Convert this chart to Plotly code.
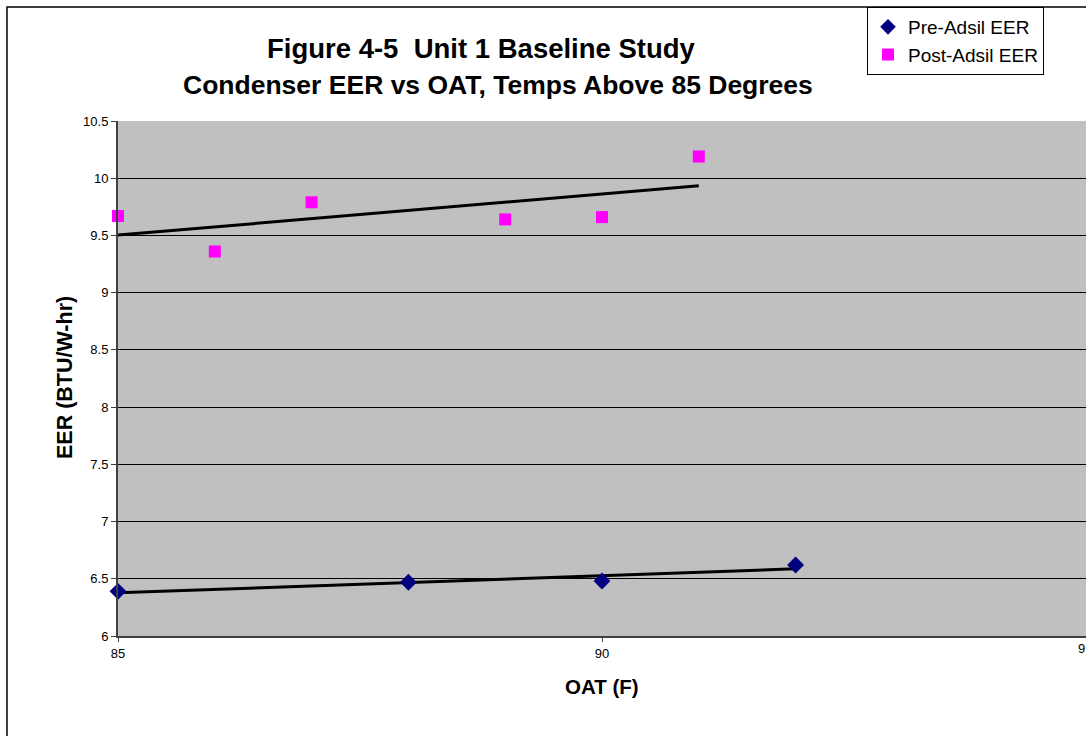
import numpy as np
import plotly.graph_objects as go

pre_x = [85, 88, 90, 92]
pre_y = [6.39, 6.47, 6.48, 6.62]
post_x = [85, 86, 87, 89, 90, 91]
post_y = [9.67, 9.36, 9.79, 9.64, 9.66, 10.19]
x_ticks = [85, 90, 95]

W, H = 1086, 736
L, R, T, B = 118, 0, 121, 100
pw, ph = W - L - R, H - T - B

def px2x(p):
    return (p - L) / pw

def py2y(p):
    return (H - B - p) / ph

def trend(xs, ys):
    k, b = np.polyfit(xs, ys, 1)
    xx = np.array([min(xs), max(xs)], dtype=float)
    return xx, k * xx + b

fig = go.Figure()
tx, ty = trend(pre_x, pre_y)
fig.add_trace(go.Scatter(x=tx, y=ty, mode="lines", line=dict(color="black", width=3),
                         showlegend=False, hoverinfo="skip", cliponaxis=False))
tx, ty = trend(post_x, post_y)
fig.add_trace(go.Scatter(x=tx, y=ty, mode="lines", line=dict(color="black", width=3),
                         showlegend=False, hoverinfo="skip", cliponaxis=False))
fig.add_trace(go.Scatter(x=pre_x, y=pre_y, mode="markers", name="Pre-Adsil EER",
                         marker=dict(symbol="diamond", size=13, color="#000080"),
                         cliponaxis=False))
fig.add_trace(go.Scatter(x=post_x, y=post_y, mode="markers", name="Post-Adsil EER",
                         marker=dict(symbol="square", size=12, color="#FF00FF"),
                         cliponaxis=False))

fig.update_layout(
    width=W, height=H,
    margin=dict(l=L, r=R, t=T, b=B, pad=0),
    paper_bgcolor="white", plot_bgcolor="#C0C0C0",
    font=dict(family="Arial, Liberation Sans, sans-serif", color="black"),
    showlegend=True,
    legend=dict(x=px2x(867), y=py2y(7), xanchor="left", yanchor="top",
                bgcolor="white", bordercolor="black", borderwidth=1,
                font=dict(size=19), tracegroupgap=0, itemsizing="constant",
                itemwidth=30),
    xaxis=dict(range=[85, 95], tickvals=x_ticks,
               ticktext=[str(v) if v < 95 else "" for v in x_ticks],
               showgrid=False, zeroline=False, showline=True, linecolor="#404040",
               linewidth=2, ticks="outside", ticklen=4, tickcolor="#404040",
               tickfont=dict(size=13), fixedrange=True),
    yaxis=dict(range=[6, 10.5], dtick=0.5, tick0=6, showgrid=True, gridcolor="black",
               gridwidth=1, zeroline=False, showline=True, linecolor="#404040",
               linewidth=2, ticks="outside", ticklen=5, tickcolor="#404040",
               tickfont=dict(size=13), fixedrange=True),
    shapes=[dict(type="rect", xref="paper", yref="paper",
                 x0=px2x(7), x1=px2x(1100), y0=py2y(760), y1=py2y(7),
                 line=dict(color="black", width=1.5), fillcolor="rgba(0,0,0,0)",
                 layer="below")],
    annotations=[
        dict(text="<b>Figure 4-5  Unit 1 Baseline Study</b>", xref="paper", yref="paper",
             x=px2x(481), y=py2y(48), xanchor="center", yanchor="middle",
             showarrow=False, font=dict(size=27.5)),
        dict(text="<b>Condenser EER vs OAT, Temps Above 85 Degrees</b>", xref="paper", yref="paper",
             x=px2x(498), y=py2y(85), xanchor="center", yanchor="middle",
             showarrow=False, font=dict(size=26.5)),
        dict(text="<b>EER (BTU/W-hr)</b>", xref="paper", yref="paper",
             x=px2x(65), y=py2y(378), xanchor="center", yanchor="middle",
             textangle=-90, showarrow=False, font=dict(size=21.5)),
        dict(text="<b>OAT (F)</b>", xref="paper", yref="paper",
             x=px2x(602), y=py2y(686), xanchor="center", yanchor="middle",
             showarrow=False, font=dict(size=20.5)),
        dict(text=str(x_ticks[-1]), xref="x", yref="paper",
             x=x_ticks[-1], y=py2y(648), xanchor="left", yanchor="middle",
             xshift=-10, showarrow=False, font=dict(size=13)),
    ],
)

fig.write_html("out.html")
